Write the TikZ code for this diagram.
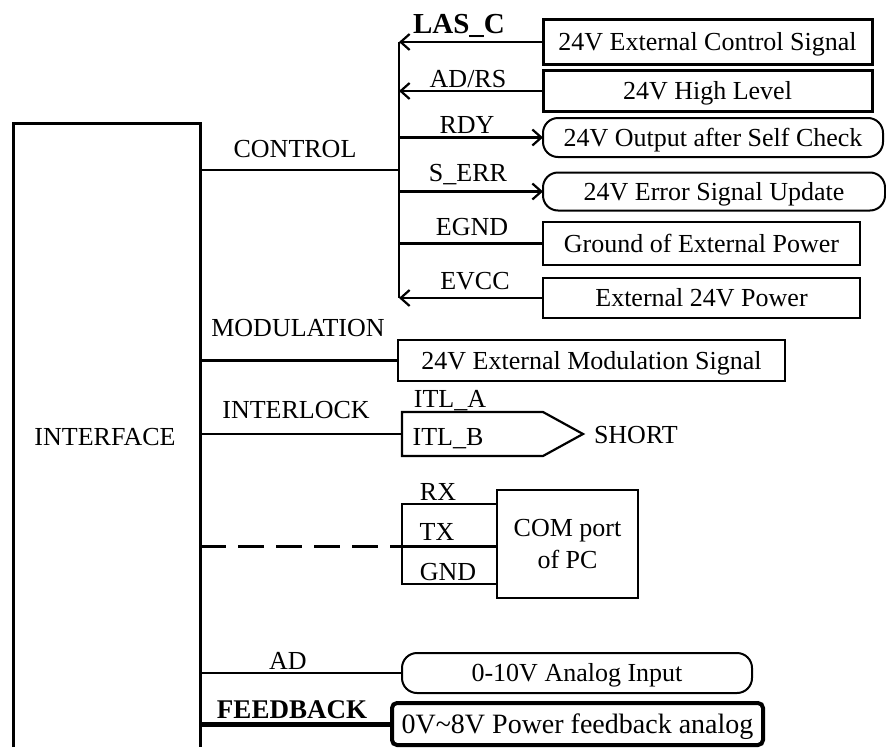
\documentclass[tikz,border=0pt]{standalone}
\usepackage{fontspec}
\setmainfont{Liberation Serif}
\usetikzlibrary{arrows.meta}
\begin{document}
\begin{tikzpicture}[x=1pt,y=-1pt,
  every node/.style={inner sep=0pt, outer sep=0pt},
  lbl/.style={font=\fontsize{26}{30}\selectfont, anchor=base},
  blbl/.style={font=\fontsize{27}{31}\selectfont\bfseries, anchor=base},
  boxtext/.style={font=\fontsize{26}{30}\selectfont, text height=17pt, text depth=0pt},
  sbox/.style={draw, line width=2pt, boxtext},
  tbox/.style={draw, line width=3pt, boxtext},
  rbox/.style={draw, line width=2pt, rounded corners=15pt, boxtext},
  wire/.style={line width=2.4pt},
  arr/.style={wire, -{Straight Barb[length=9pt,width=16pt,line width=2.2pt]}},
  dashwire/.style={line width=3pt, dash pattern=on 26pt off 12pt}
]
\useasboundingbox (0,0) rectangle (886,747);

% interface block (open at bottom)
\coordinate (ifBL) at (13,747);
\coordinate (ifTL) at (13,123);
\coordinate (ifTR) at (200,123);
\coordinate (ifBR) at (200,747);
\draw[line width=3pt] (ifBL) -- (ifTL) -- (ifTR) -- (ifBR);
\node[lbl] (iface) at (105,445) {INTERFACE};

% control bus
\coordinate (busT) at (399,42);
\coordinate (busB) at (399,298);
\coordinate (ctlL) at (200,170);
\draw[wire] (busT) -- (busB);
\draw[wire] (ctlL) -- (ctlL -| busT);
\node[lbl] (ctl) at (295,157) {CONTROL};

% control boxes
\node[tbox, minimum width=329pt, minimum height=45pt] (b1) at (707.5,42) {24V External Control Signal};
\node[tbox, minimum width=329pt, minimum height=41pt] (b2) at (707.5,91) {24V High Level};
\node[rbox, minimum width=340pt, minimum height=39pt] (b3) at (713,137.5) {24V Output after Self Check};
\node[rbox, minimum width=342pt, minimum height=38pt] (b4) at (714,191.5) {24V Error Signal Update};
\node[sbox, minimum width=317pt, minimum height=43pt] (b5) at (701.5,243.5) {Ground of External Power};
\node[sbox, minimum width=317pt, minimum height=40pt] (b6) at (701.5,298) {External 24V Power};

\draw[arr] (b1.west) -- (b1.west -| busT);
\draw[arr] (b2.west) -- (b2.west -| busT);
\draw[arr] (b3.west -| busT) -- (b3.west);
\draw[arr] (b4.west -| busT) -- (b4.west);
\draw[wire] (b5.west) -- (b5.west -| busT);
\draw[arr] (b6.west) -- (b6.west -| busT);

\node[font=\fontsize{29}{33}\selectfont\bfseries, anchor=base] (lasc) at (459,33) {LAS\_C};
\node[lbl] (adrs) at (468,87) {AD/RS};
\node[lbl] (rdy) at (467,133) {RDY};
\node[lbl] (serr) at (468,181) {S\_ERR};
\node[lbl] (egnd) at (472,235) {EGND};
\node[lbl] (evcc) at (475,289) {EVCC};

% modulation
\coordinate (modL) at (200,360.5);
\node[sbox, minimum width=387pt, minimum height=41pt] (mod) at (591.5,360.5) {24V External Modulation Signal};
\draw[wire] (modL) -- (mod.west);
\node[lbl] (modlbl) at (298,336) {MODULATION};

% interlock
\coordinate (ilL) at (200,434);
\coordinate (itlW) at (402,434);
\coordinate (itlTL) at (402,412);
\coordinate (itlTR) at (543,412);
\coordinate (itlTip) at (583,434);
\coordinate (itlBR) at (543,456);
\coordinate (itlBL) at (402,456);
\draw[line width=2.2pt, line join=miter] (itlTL) -- (itlTR) -- (itlTip) -- (itlBR) -- (itlBL) -- cycle;
\draw[wire] (ilL) -- (itlW);
\node[lbl] (illbl) at (296,418) {INTERLOCK};
\node[lbl] (itla) at (450,407) {ITL\_A};
\node[lbl] (itlb) at (448,445) {ITL\_B};
\node[lbl, anchor=base west] (short) at (594,443) {SHORT};

% COM port
\node[draw, line width=2pt, minimum width=141pt, minimum height=108pt, align=center,
      font=\fontsize{26}{32}\selectfont] (com) at (567.5,544) {COM port\\of PC};
\coordinate (dL) at (200,546);
\coordinate (cM) at (402,546);
\coordinate (cT) at (402,504);
\coordinate (cB) at (402,584);
\draw[dashwire] (dL) -- (cM);
\draw[line width=2pt] (cT -| com.west) -- (cT) -- (cB) -- (cB -| com.west);
\draw[line width=3pt] (cM) -- (cM -| com.west);
\node[lbl] (rx) at (438,500) {RX};
\node[lbl] (tx) at (437,540) {TX};
\node[lbl] (gnd) at (448,580) {GND};

% analog input
\coordinate (adL) at (200,673);
\node[rbox, minimum width=350pt, minimum height=40pt] (ana) at (577,673) {0-10V Analog Input};
\draw[wire] (adL) -- (ana.west);
\node[lbl] (adlbl) at (288,669) {AD};

% feedback
\coordinate (fbL) at (200,724);
\node[draw, line width=4pt, rounded corners=5pt, minimum width=371pt, minimum height=42pt,
      font=\fontsize{28}{32}\selectfont, text height=19pt, text depth=0pt] (fb) at (577.5,724)
      {0V\textasciitilde 8V Power feedback analog};
\draw[line width=5pt] (fbL) -- (fb.west);
\node[blbl] (fblbl) at (292,718) {FEEDBACK};
\end{tikzpicture}
\end{document}
